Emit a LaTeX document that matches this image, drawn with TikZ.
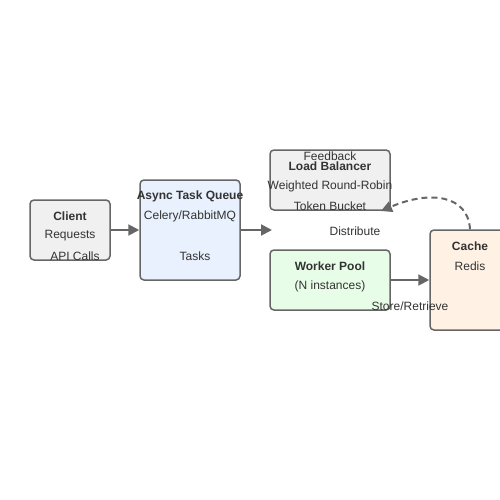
\documentclass[tikz,border=0pt]{standalone}
\usepackage{fontspec}
\setmainfont{Liberation Sans}
\usetikzlibrary{arrows.meta}
\definecolor{bordc}{HTML}{666666}
\definecolor{txtc}{HTML}{333333}
\definecolor{qfill}{HTML}{E8F1FD}
\definecolor{gfill}{HTML}{F0F0F0}
\definecolor{wfill}{HTML}{E8FDE8}
\definecolor{cfill}{HTML}{FFF2E5}
\begin{document}
\begin{tikzpicture}[x=1pt,y=-1pt,
  box/.style={draw=bordc,line width=1.5pt,rounded corners=4pt},
  lbl/.style={text=txtc,font=\fontsize{12}{14}\selectfont,inner sep=0pt,anchor=center},
  blbl/.style={lbl,font=\fontsize{12}{14}\selectfont\bfseries},
  conn/.style={draw=bordc,line width=2pt,-{Triangle[length=11pt,width=11pt]}},
  dconn/.style={draw=bordc,line width=2pt,dash pattern=on 6pt off 4pt,-{Triangle[length=11pt,width=11pt]}}]
\useasboundingbox (0,0) rectangle (500,500);
\fill[white] (0,0) rectangle (500,500);
\begin{scope}
\clip (0,0) rectangle (500,500);
% boxes
\node[box,fill=gfill,minimum width=80pt,minimum height=60pt] (client) at (70,230) {};
\node[box,fill=qfill,minimum width=100pt,minimum height=100pt] (queue) at (190,230) {};
\node[box,fill=gfill,minimum width=120pt,minimum height=60pt] (lb) at (330,180) {};
\node[box,fill=wfill,minimum width=120pt,minimum height=60pt] (wp) at (330,280) {};
\node[box,fill=cfill,minimum width=80pt,minimum height=100pt] (cache) at (470,280) {};
% texts
\node[blbl] (t1) at (70,216) {Client};
\node[lbl] (t2) at (70,236) {Requests};
\node[lbl] (t3) at (75,256) {API Calls};
\node[blbl] (t4) at (190,196) {Async Task Queue};
\node[lbl] (t5) at (190,216) {Celery/RabbitMQ};
\node[lbl] (t6) at (195,256) {Tasks};
\node[lbl] (t7) at (330,156) {Feedback};
\node[blbl] (t8) at (330,166) {Load Balancer};
\node[lbl] (t9) at (330,186) {Weighted Round-Robin};
\node[lbl] (t10) at (330,206) {Token Bucket};
\node[lbl] (t11) at (355,231) {Distribute};
\node[blbl] (t12) at (330,266) {Worker Pool};
\node[lbl] (t13) at (330,286) {(N instances)};
\node[lbl] (t14) at (410,306) {Store/Retrieve};
\node[blbl] (t15) at (470,246) {Cache};
\node[lbl] (t16) at (470,266) {Redis};
% connectors
\coordinate (qend) at (272,230);
\coordinate (fbend) at (381,211);
\draw[conn] (client.east) -- (queue.west);
\draw[conn] (queue.east) -- (qend);
\draw[conn] (wp.east) -- (cache.west);
\draw[dconn] (cache.north) .. controls (468,195) and (430,190) .. (fbend);
\end{scope}
\end{tikzpicture}
\end{document}
